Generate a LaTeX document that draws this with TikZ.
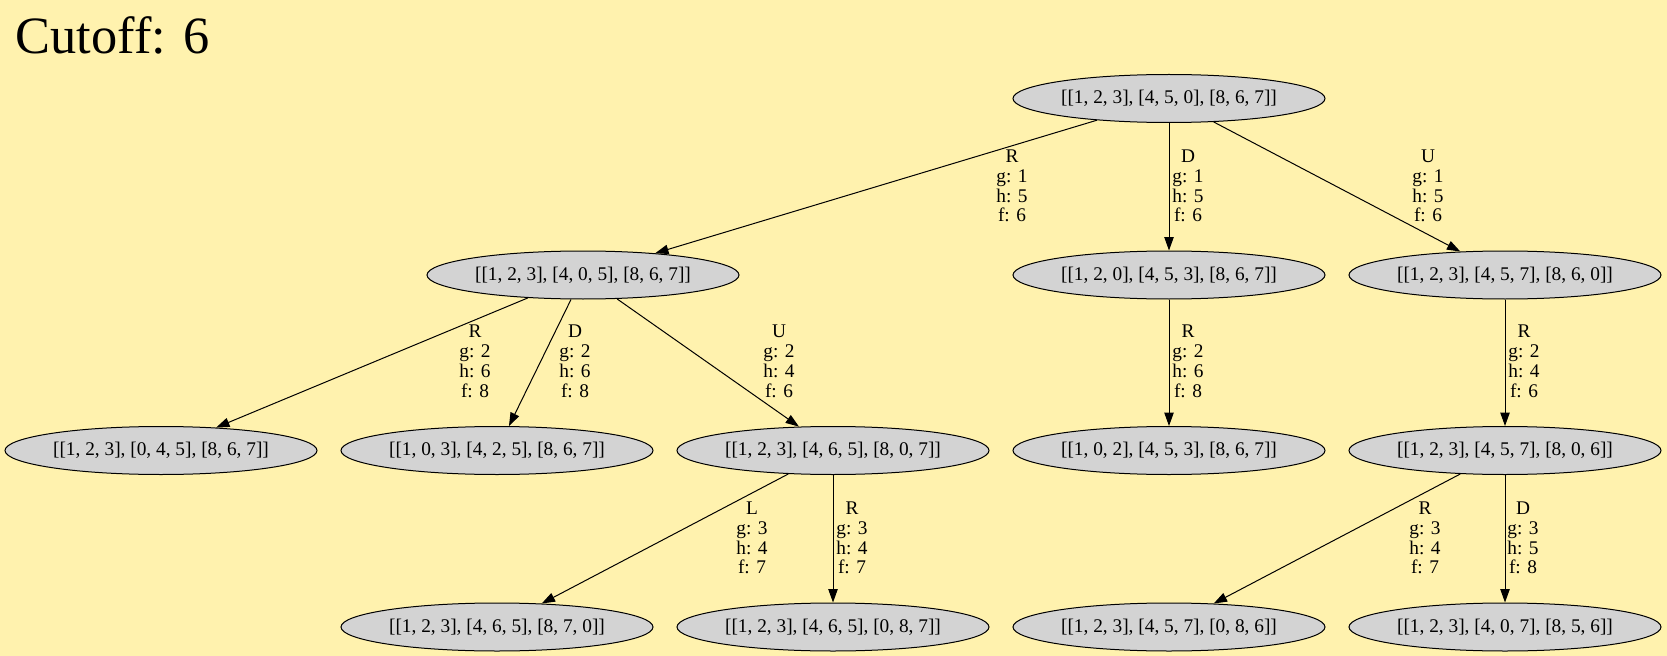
\documentclass[tikz,border=0pt]{standalone}
\usepackage{fontspec}
\setmainfont{Liberation Serif}
\usetikzlibrary{shapes.geometric,arrows.meta}
\definecolor{bgyellow}{HTML}{FFF2AE}
\definecolor{nodegray}{HTML}{D3D3D3}
\begin{document}
\begin{tikzpicture}[x=0.75pt,y=-0.75pt,
  puzzle/.style={ellipse,draw=black,fill=nodegray,line width=0.75pt,
    minimum width=234pt,minimum height=36pt,inner sep=0pt,
    font=\fontsize{14.5}{14.9}\selectfont},
  lbl/.style={align=center,inner sep=0pt,font=\fontsize{14.5}{14.9}\selectfont},
  link/.style={draw=black,line width=0.75pt,-{Triangle[length=10pt,width=7pt]}}
]
% background and page size
\fill[bgyellow] (0,0) rectangle (1667,656);
\useasboundingbox (0,0) rectangle (1667,656);

% title
\node[anchor=base west,inner sep=0pt,font=\fontsize{39.3}{47}\selectfont] (title) at (15.5,53.5) {Cutoff: 6};

% search tree states
\node[puzzle] (root) at (1169,98.5) {[[1, 2, 3], [4, 5, 0], [8, 6, 7]]};

\node[puzzle] (s405) at (583,275) {[[1, 2, 3], [4, 0, 5], [8, 6, 7]]};
\node[puzzle] (s120) at (1169,275) {[[1, 2, 0], [4, 5, 3], [8, 6, 7]]};
\node[puzzle] (s457) at (1505,275) {[[1, 2, 3], [4, 5, 7], [8, 6, 0]]};

\node[puzzle] (s045) at (161,450.5) {[[1, 2, 3], [0, 4, 5], [8, 6, 7]]};
\node[puzzle] (s103) at (497,450.5) {[[1, 0, 3], [4, 2, 5], [8, 6, 7]]};
\node[puzzle] (s465) at (833,450.5) {[[1, 2, 3], [4, 6, 5], [8, 0, 7]]};
\node[puzzle] (s102) at (1169,450.5) {[[1, 0, 2], [4, 5, 3], [8, 6, 7]]};
\node[puzzle] (s806) at (1505,450.5) {[[1, 2, 3], [4, 5, 7], [8, 0, 6]]};

\node[puzzle] (s870) at (497,627) {[[1, 2, 3], [4, 6, 5], [8, 7, 0]]};
\node[puzzle] (s087) at (833,627) {[[1, 2, 3], [4, 6, 5], [0, 8, 7]]};
\node[puzzle] (s086) at (1169,627) {[[1, 2, 3], [4, 5, 7], [0, 8, 6]]};
\node[puzzle] (s856) at (1505,627) {[[1, 2, 3], [4, 0, 7], [8, 5, 6]]};

% moves
\draw[link] (root) -- (s405);
\draw[link] (root) -- (s120);
\draw[link] (root) -- (s457);
\draw[link] (s405) -- (s045);
\draw[link] (s405) -- (s103);
\draw[link] (s405) -- (s465);
\draw[link] (s120) -- (s102);
\draw[link] (s457) -- (s806);
\draw[link] (s465) -- (s870);
\draw[link] (s465) -- (s087);
\draw[link] (s806) -- (s086);
\draw[link] (s806) -- (s856);

% move labels with costs
\node[lbl] (l1) at (1012,186) {R\\g: 1\\h: 5\\f: 6};
\node[lbl] (l2) at (1188,186) {D\\g: 1\\h: 5\\f: 6};
\node[lbl] (l3) at (1428,186) {U\\g: 1\\h: 5\\f: 6};

\node[lbl] (l4) at (475,361.5) {R\\g: 2\\h: 6\\f: 8};
\node[lbl] (l5) at (575,361.5) {D\\g: 2\\h: 6\\f: 8};
\node[lbl] (l6) at (779,361.5) {U\\g: 2\\h: 4\\f: 6};
\node[lbl] (l7) at (1188,361.5) {R\\g: 2\\h: 6\\f: 8};
\node[lbl] (l8) at (1524,361.5) {R\\g: 2\\h: 4\\f: 6};

\node[lbl] (l9) at (752,538) {L\\g: 3\\h: 4\\f: 7};
\node[lbl] (l10) at (852,538) {R\\g: 3\\h: 4\\f: 7};
\node[lbl] (l11) at (1425,538) {R\\g: 3\\h: 4\\f: 7};
\node[lbl] (l12) at (1523,538) {D\\g: 3\\h: 5\\f: 8};
\end{tikzpicture}
\end{document}
